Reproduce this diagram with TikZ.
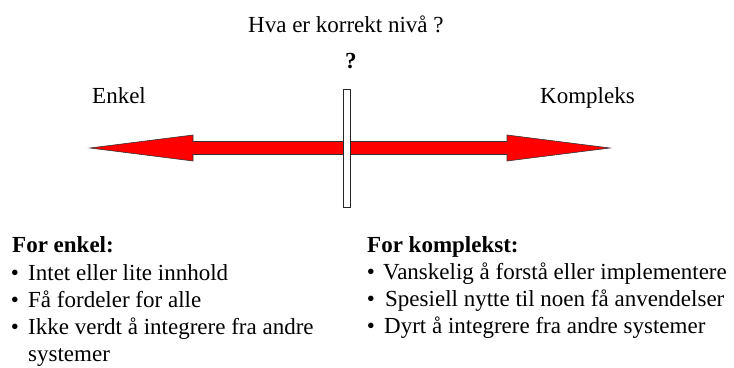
\documentclass[tikz,border=0pt]{standalone}
\usepackage{fontspec}
\setmainfont{Liberation Serif}
\begin{document}
\begin{tikzpicture}[x=1pt,y=-1pt,
  txt/.style={inner sep=0pt,anchor=base west,font=\fontsize{23}{27}\selectfont},
  head/.style={txt,font=\fontsize{23}{27}\selectfont\bfseries},
  bul/.style={inner sep=0pt,anchor=base,font=\fontsize{23}{27}\selectfont},
  arrowbody/.style={fill=red,draw=black!80,line width=0.6pt,line join=miter},
  marker/.style={fill=white,draw=black!85,line width=0.7pt}]
\useasboundingbox (0,0) rectangle (734,367);

% title and question mark
\node[txt] (title) at (248,32) {Hva er korrekt nivå ?};
\node[head] (qm) at (345,68) {?};

% end labels
\node[txt] (simple) at (92,103) {Enkel};
\node[txt] (complex) at (540,103) {Kompleks};

% double-headed red arrow
\draw[arrowbody] (90,148) -- (193,135) -- (193,141.5) -- (507,141.5)
  -- (507,135) -- (610,148) -- (507,161) -- (507,154.5) -- (193,154.5)
  -- (193,161) -- cycle;

% marker on the scale
\draw[marker] (343,89) rectangle (350,207);

% left list
\node[head] (lh) at (12,252) {For enkel:};
\node[bul] (lb1) at (15,280) {•};
\node[txt] (l1) at (28,280) {Intet eller lite innhold};
\node[bul] (lb2) at (15,307) {•};
\node[txt] (l2) at (28,307) {Få fordeler for alle};
\node[bul] (lb3) at (15,334) {•};
\node[txt] (l3) at (28,334) {Ikke verdt å integrere fra andre};
\node[txt] (l3b) at (28,361) {systemer};

% right list
\node[head] (rh) at (367,252) {For komplekst:};
\node[bul] (rb1) at (371,279) {•};
\node[txt] (r1) at (383,279) {Vanskelig å forstå eller implementere};
\node[bul] (rb2) at (371,306) {•};
\node[txt] (r2) at (385,306) {Spesiell nytte til noen få anvendelser};
\node[bul] (rb3) at (371,333) {•};
\node[txt] (r3) at (384,333) {Dyrt å integrere fra andre systemer};
\end{tikzpicture}
\end{document}
